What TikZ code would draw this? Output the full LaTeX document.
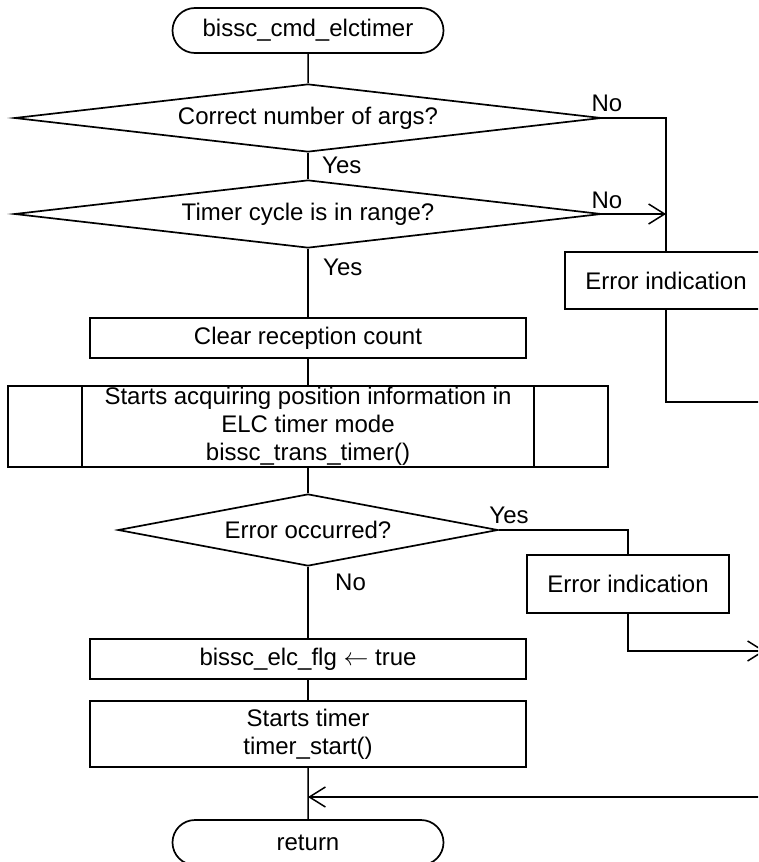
\documentclass[tikz,border=0pt]{standalone}
\usepackage{fontspec}
\setmainfont{Liberation Sans}
\usetikzlibrary{shapes.geometric,shapes.misc,arrows.meta}

\begin{document}
\begin{tikzpicture}[x=1pt,y=-1pt,
    every node/.style={inner sep=0pt,align=center,font=\fontsize{24}{28}\selectfont},
    termbox/.style={draw,rounded rectangle,line width=1.7pt,minimum width=271pt,minimum height=45pt},
    procbox/.style={draw,rectangle,line width=1.7pt,minimum width=436pt,minimum height=40pt},
    errbox/.style={draw,rectangle,line width=1.7pt,minimum width=202pt,minimum height=57pt},
    decision/.style={draw,diamond,line width=1.7pt,shape aspect=8.6,minimum width=587pt,minimum height=68pt},
    subbox/.style={draw,rectangle,line width=1.7pt,minimum width=600pt,minimum height=81pt},
    flowline/.style={line width=1.5pt},
    flowarrow/.style={line width=1.5pt,-{Straight Barb[length=16pt,width=20pt]}}]
    \useasboundingbox (0,0) rectangle (758,862);
    \clip (0,0) rectangle (758,862);
    % main column
    \node[termbox] (start) at (308,30.5) {bissc\_cmd\_elctimer};
    \node[decision] (d1) at (308,118) {Correct number of args?};
    \node[decision] (d2) at (308,214) {Timer cycle is in range?};
    \node[procbox] (clear) at (308,338) {Clear reception count};
    \node[subbox] (sub) at (308,426.5) {Starts acquiring position information in\\ELC timer mode\\bissc\_trans\_timer()};
    \draw[line width=1.7pt] ([xshift=75pt]sub.north west) -- ([xshift=75pt]sub.south west);
    \draw[line width=1.7pt] ([xshift=-75pt]sub.north east) -- ([xshift=-75pt]sub.south east);
    \node[decision,shape aspect=5.3,minimum width=380pt,minimum height=72pt] (d3) at (308,530) {Error occurred?};
    \node[procbox] (flag) at (308,659) {bissc\_elc\_flg $\leftarrow$ true};
    \node[procbox,minimum height=66pt] (timer) at (308,734) {Starts timer\\timer\_start()};
    \node[termbox] (ret) at (308,842.5) {return};
    % error branches
    \node[errbox] (err1) at (666,280.5) {Error indication};
    \node[errbox,minimum height=58pt] (err2) at (628,584) {Error indication};
    \coordinate (rail1) at (765,402);
    \coordinate (rail2) at (765,651);
    \coordinate (rail3) at (765,797);
    % labels
    \node[anchor=west] (yes1) at (322,165) {Yes};
    \node[anchor=west] (yes2) at (323,267) {Yes};
    \node (no1) at (607,103) {No};
    \node (no2) at (607,200) {No};
    \node (yes3) at (509,515) {Yes};
    \node[anchor=west] (no3) at (335,582) {No};
    % connectors
    \draw[flowline] (start) -- (d1);
    \draw[flowline] (d1) -- (d2);
    \draw[flowline] (d2) -- (clear);
    \draw[flowline] (clear) -- (sub);
    \draw[flowline] (sub) -- (d3);
    \draw[flowline] (d3) -- (flag);
    \draw[flowline] (flag) -- (timer);
    \draw[flowline] (timer) -- (ret);
    \draw[flowline] (d1.east) -| (err1.north);
    \draw[flowarrow] (d2.east) -- (d2.east -| err1.north);
    \draw[flowline] (err1.south) |- (rail1);
    \draw[flowline] (d3.east) -| (err2.north);
    \draw[flowarrow] (err2.south) |- (rail2);
    \draw[flowline] (rail1) -- (rail3);
    \draw[flowarrow] (rail3) -- (timer.south |- rail3);
\end{tikzpicture}
\end{document}
